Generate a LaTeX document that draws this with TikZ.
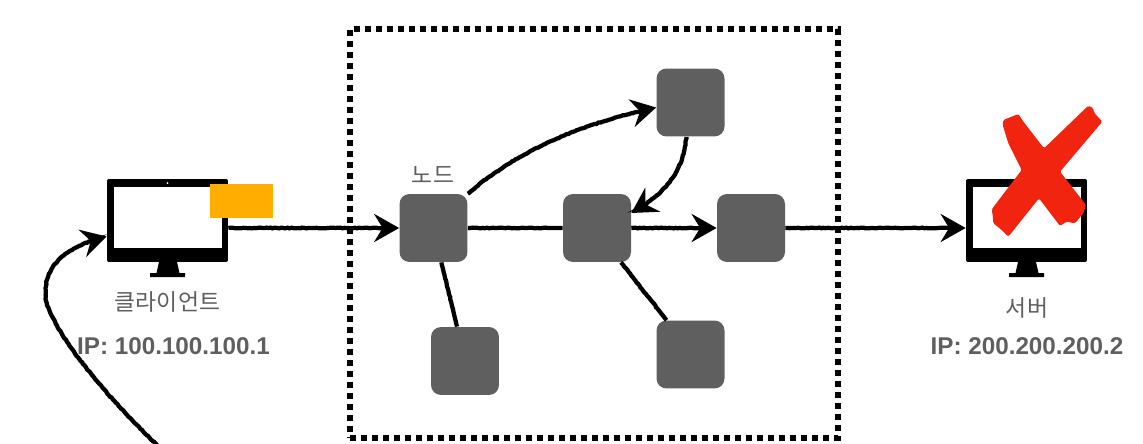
\documentclass[tikz,border=0pt]{standalone}
\usepackage{fontspec}
\setmainfont{Liberation Sans}
\newfontfamily\cjk{Noto Sans CJK KR}
\usetikzlibrary{arrows.meta,decorations.pathmorphing}
\definecolor{nodegray}{HTML}{5F5F5F}
\definecolor{packetorange}{HTML}{FFAE00}
\definecolor{crossred}{HTML}{F0240F}

\begin{document}
\begin{tikzpicture}[
    x=0.02cm, y=-0.02cm,
    nodebox/.style={
        fill=nodegray,
        rounded corners=0.2cm,
        minimum size=1.36cm,
        inner sep=0pt
    },
    monitorbox/.style={
        fill=black,
        rounded corners=0.04cm,
        minimum width=2.42cm,
        minimum height=1.66cm,
        inner sep=0pt
    },
    screenbox/.style={
        fill=white,
        minimum width=2.16cm,
        minimum height=1.22cm,
        inner sep=0pt
    },
    link/.style={
        line width=0.085cm,
        decorate,
        decoration={random steps, segment length=1.2pt, amplitude=0.22pt, post length=0.3cm}
    },
    arrowlink/.style={link, -{Stealth[length=0.5cm, width=0.56cm, inset=0.17cm]}},
    korean/.style={text=nodegray, font=\fontsize{13}{16}\selectfont\cjk},
    iplabel/.style={text=nodegray, font=\fontsize{13.8}{17}\selectfont\bfseries}
]
\useasboundingbox (0,0) rectangle (1143,443);

% Network boundary
\node[draw, line width=0.12cm, dash pattern=on 0.12cm off 0.1cm,
    minimum width=9.76cm, minimum height=8.18cm, inner sep=0pt] (network) at (594,233.5) {};

% Client and server monitors
\foreach \name/\cx in {client/167.5, server/1026.5} {
    \node[monitorbox] (\name) at (\cx,220.5) {};
    \node[screenbox] (\name screen) at (\cx+0.5,217.5) {};
    \fill (\cx-8.5,262) -- (\cx+9.5,262) -- (\cx+12,273) -- (\cx+17.5,273)
        -- (\cx+17.5,277) -- (\cx-17.5,277) -- (\cx-17.5,273) -- (\cx-11,273) -- cycle;
    \fill[white] (\cx,183) circle (0.02cm);
}

% Packet on the client
\node[fill=packetorange, minimum width=1.26cm, minimum height=0.68cm, inner sep=0pt] (packet) at (241.5,201) {};

% Nodes
\node[nodebox] (first) at (433.5,228) {};
\node[nodebox] (middle) at (597,228) {};
\node[nodebox] (last) at (751,228) {};
\node[nodebox] (top) at (690.5,102.5) {};
\node[nodebox] (lowleft) at (465,361) {};
\node[nodebox] (lowright) at (690.5,354.5) {};

% Free end of the return arrow
\coordinate (returnstart) at (157,445);

% Connectors
\draw[arrowlink] (client.east |- first.west) -- (first.west);
\draw[link] (first.east) -- (middle.west);
\draw[arrowlink] (middle.east) -- (last.west);
\draw[arrowlink] (last.east) -- (server.west |- last.east);
\draw[arrowlink] (first.north east) .. controls (525,145) and (590,122) .. ([yshift=-0.1cm]top.west);
\draw[arrowlink] ([xshift=-0.08cm]top.south) .. controls (683,170) and (668,192) .. ([yshift=0.3cm]middle.east);
\draw[link] ([xshift=0.16cm]first.south) -- ([xshift=-0.16cm]lowleft.north);
\draw[link] ([xshift=0.48cm]middle.south) -- ([xshift=-0.48cm]lowright.north);
\draw[arrowlink] (returnstart) .. controls (105,395) and (60,340) .. (47,305)
    .. controls (38,265) and (70,245) .. ([yshift=-0.32cm]client.west);

% Red cross over the server
\begin{scope}[shift={(920,90)}, x=0.00667cm, y=-0.00667cm]
    \fill[crossred, rounded corners=0.03cm] (250,90) -- (295,72) -- (310,95) -- (372,175)
        -- (505,47) -- (520,55) -- (522,68) -- (547,95) -- (420,245) -- (498,345)
        -- (490,370) -- (465,400) -- (440,395) -- (420,408) -- (357,325) -- (265,440)
        -- (245,420) -- (220,400) -- (218,375) -- (215,358) -- (305,240) -- (265,160)
        -- (248,105) -- cycle;
\end{scope}

% Labels
\node[korean] (nodelabel) at (433,175) {노드};
\node[korean] (clientlabel) at (167.5,302) {클라이언트};
\node[korean] (serverlabel) at (1027,308) {서버};
\node[iplabel] (clientip) at (173.5,346) {IP: 100.100.100.1};
\node[iplabel] (serverip) at (1027,346) {IP: 200.200.200.2};

\end{tikzpicture}
\end{document}
